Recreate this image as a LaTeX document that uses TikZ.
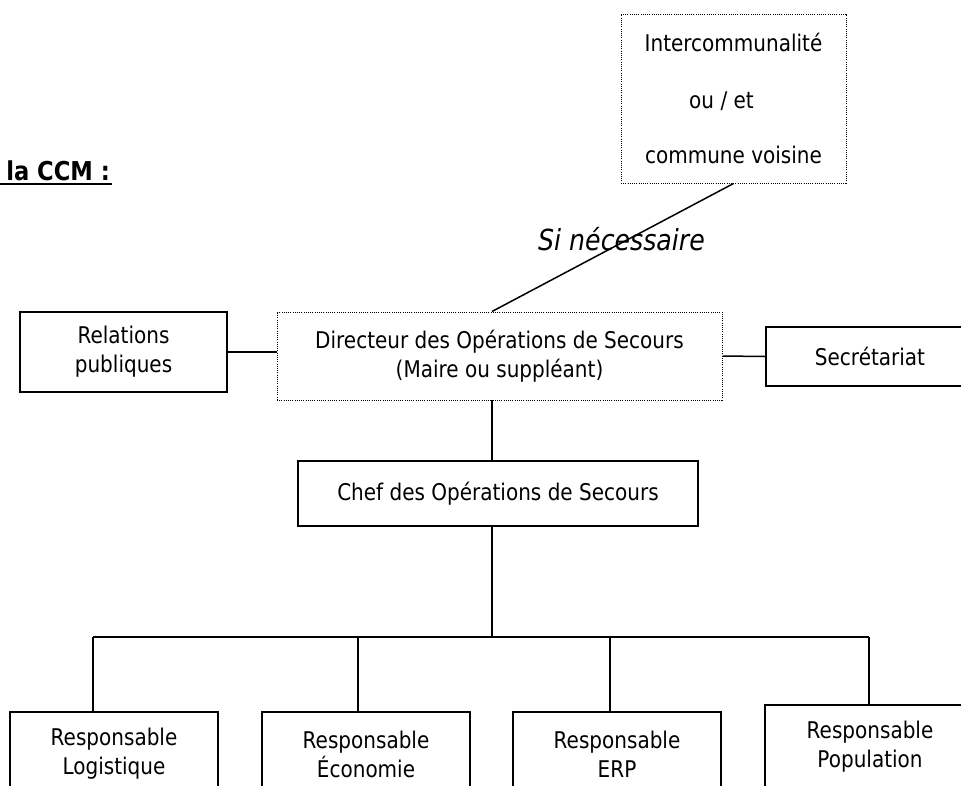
\documentclass[tikz,border=0pt]{standalone}
\usepackage{fontspec}
\setmainfont{DejaVu Sans}[FakeStretch=0.87]
\begin{document}
\begin{tikzpicture}[x=1pt,y=-1pt]
\tikzset{
  txt/.style={font=\fontsize{23}{29}\selectfont, align=center, inner sep=0pt},
  solidbox/.style={txt, draw, line width=1.6pt},
  dotbox/.style={txt, draw, line width=1pt, dash pattern=on 1pt off 1.2pt},
  link/.style={line width=1.5pt},
}
\clip (0,0) rectangle (961,785);
\fill[white] (0,0) rectangle (961,785);

% heading (cut at the left edge)
\node[font=\fontsize{26}{30}\selectfont\bfseries, anchor=base east, inner sep=0pt] (ccm) at (110,180) {la CCM :};
\draw[line width=2pt] (0,184) -- (ccm.base east |- 0,184) -- ++(2,0);

% boxes
\node[dotbox, minimum width=225pt, minimum height=169pt] (inter) at (733.5,98.5)
  {Intercommunalité\\[28pt]\hbox{ou / et\kern24pt}\\[26pt]commune voisine};
\node[solidbox, minimum width=207pt, minimum height=80pt] (rel) at (123.5,352) {Relations\\publiques};
\node[dotbox, minimum width=445pt, minimum height=88pt] (dos) at (499.5,356)
  {Directeur des Opérations de Secours\\(Maire ou suppléant)};
\node[solidbox, minimum width=208pt, minimum height=59pt] (sec) at (870,356.5) {Secrétariat};
\node[solidbox, minimum width=400pt, minimum height=65pt] (cos) at (498,493.5) {Chef des Opérations de Secours};

\node[solidbox, minimum width=208pt, minimum height=84pt] (r1) at (114,754) {Responsable\\Logistique};
\node[solidbox, minimum width=208pt, minimum height=84pt] (r2) at (366,754) {Responsable\\Économie};
\node[solidbox, minimum width=208pt, minimum height=84pt] (r3) at (617,754) {Responsable\\ERP};
\node[solidbox, minimum width=210pt, minimum height=84pt] (r4) at (870,747) {Responsable\\Population};

% label
\node[font=\fontsize{29}{34}\selectfont\itshape, anchor=base west, inner sep=0pt] (si) at (538,250) {Si nécessaire};

% connectors
\coordinate (dj) at (492,400);
\draw[link] (dj |- dos.north) -- (inter.south);
\draw[link] (rel.east) -- (rel.east -| dos.west);
\draw[link] (dos.east) -- (sec.west);
\draw[link] (dj) -- (dj |- cos.north);

\coordinate (hub) at (492,637);
\coordinate (t1) at (93,637);
\coordinate (t2) at (358,637);
\coordinate (t3) at (610,637);
\coordinate (t4) at (869,637);
\draw[link] (dj |- cos.south) -- (hub);
\draw[link] (t1) -- (t4);
\draw[link] (t1) -- (t1 |- r1.north);
\draw[link] (t2) -- (t2 |- r2.north);
\draw[link] (t3) -- (t3 |- r3.north);
\draw[link] (t4) -- (t4 |- r4.north);
\end{tikzpicture}
\end{document}
